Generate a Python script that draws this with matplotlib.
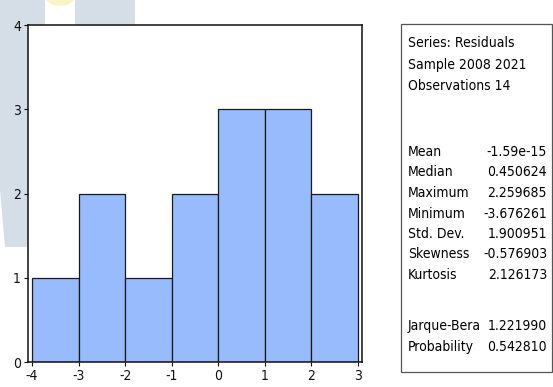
import matplotlib
matplotlib.use("Agg")
import matplotlib.pyplot as plt
from matplotlib.patches import Polygon, Rectangle, Ellipse
from matplotlib import font_manager

# Histogram of residuals: unit-width bins from -4 to 3
bin_edges = [-4, -3, -2, -1, 0, 1, 2, 3]
bin_counts = [1, 2, 1, 2, 3, 3, 2]
x_ticks = [-4, -3, -2, -1, 0, 1, 2, 3]
y_ticks = [0, 1, 2, 3, 4]

# Descriptive statistics panel
header_lines = ["Series: Residuals", "Sample 2008 2021", "Observations 14"]
stat_names = ["Mean", "Median", "Maximum", "Minimum", "Std. Dev.", "Skewness", "Kurtosis"]
stat_values = ["-1.59e-15", "0.450624", "2.259685", "-3.676261", "1.900951", "-0.576903", "2.126173"]
test_names = ["Jarque-Bera", "Probability"]
test_values = ["1.221990", "0.542810"]

entries = font_manager.fontManager.ttflist
names = {f.name for f in entries}
stretch_kw = {}
if "Liberation Sans Narrow" in names:
    family = "Liberation Sans Narrow"
    fs = 11
elif any(f.name == "DejaVu Sans" and f.stretch == "condensed" for f in entries):
    family = "DejaVu Sans"
    stretch_kw = {"fontstretch": "condensed"}
    fs = 10
else:
    family = "Liberation Sans"
    fs = 10
plt.rcParams["font.family"] = [family, "DejaVu Sans"]
if stretch_kw:
    plt.rcParams["font.stretch"] = "condensed"

W, H = 553, 387
fig = plt.figure(figsize=(W / 100, H / 100), dpi=100)
fig.patch.set_facecolor("white")


def px(x, y):
    """Convert pixel position (origin top-left) to figure fraction."""
    return x / W, 1 - y / H


# faint background decoration in the upper-left corner, kept behind the axes
deco = "#d5dde7"
fig.patches.append(Polygon([px(0, 0), px(45, 0), px(45, 25), px(28, 25), px(28, 247),
                            px(5, 247), px(0, 190)], closed=True, transform=fig.transFigure,
                           facecolor=deco, edgecolor="none", zorder=-5))
fig.patches.append(Rectangle(px(75, 25), 60 / W, 25 / H, transform=fig.transFigure,
                             facecolor=deco, edgecolor="none", zorder=-5))
fig.patches.append(Ellipse(px(60, -4), 30 / W, 20 / H, transform=fig.transFigure,
                           facecolor="#fbf3c8", edgecolor="none", zorder=-5))

# main histogram axes
ax_l, ax_t, ax_r, ax_b = 28, 25, 362, 362
ax = fig.add_axes([ax_l / W, 1 - ax_b / H, (ax_r - ax_l) / W, (ax_b - ax_t) / H])
ax.set_facecolor("white")
ax.hist(bin_edges[:-1], bins=bin_edges, weights=bin_counts,
        color="#97bbfd", edgecolor="#1a1a1a", linewidth=0.9)
ax.set_xlim(-4.086, 3.086)
ax.set_ylim(0, 4)
ax.set_xticks(x_ticks)
ax.set_yticks(y_ticks)
ax.set_xticklabels([str(v) for v in x_ticks])
ax.set_yticklabels([str(v) for v in y_ticks])
for s in ax.spines.values():
    s.set_linewidth(1.1)
    s.set_color("#111111")
ax.tick_params(direction="out", length=3, width=0.8, labelsize=fs, pad=2, colors="#111111")

# statistics box
box_l, box_t, box_r, box_b = 401, 24, 552, 372
fig.patches.append(Rectangle(px(box_l, box_b), (box_r - box_l) / W, (box_b - box_t) / H,
                             transform=fig.transFigure, facecolor="white",
                             edgecolor="#555555", linewidth=0.9, zorder=1))

lx, rx = 408, 547
for i, line in enumerate(header_lines):
    fig.text(*px(lx, 43 + 21.5 * i), line, fontsize=fs, va="center", ha="left", zorder=2)

for i, (n, v) in enumerate(zip(stat_names, stat_values)):
    y = 152 + 20.5 * i
    fig.text(*px(lx, y), n, fontsize=fs, va="center", ha="left", zorder=2)
    fig.text(*px(rx, y), v, fontsize=fs, va="center", ha="right", zorder=2)

for i, (n, v) in enumerate(zip(test_names, test_values)):
    y = 326 + 21 * i
    fig.text(*px(lx, y), n, fontsize=fs, va="center", ha="left", zorder=2)
    fig.text(*px(rx, y), v, fontsize=fs, va="center", ha="right", zorder=2)

fig.savefig("out.png", dpi=100)
